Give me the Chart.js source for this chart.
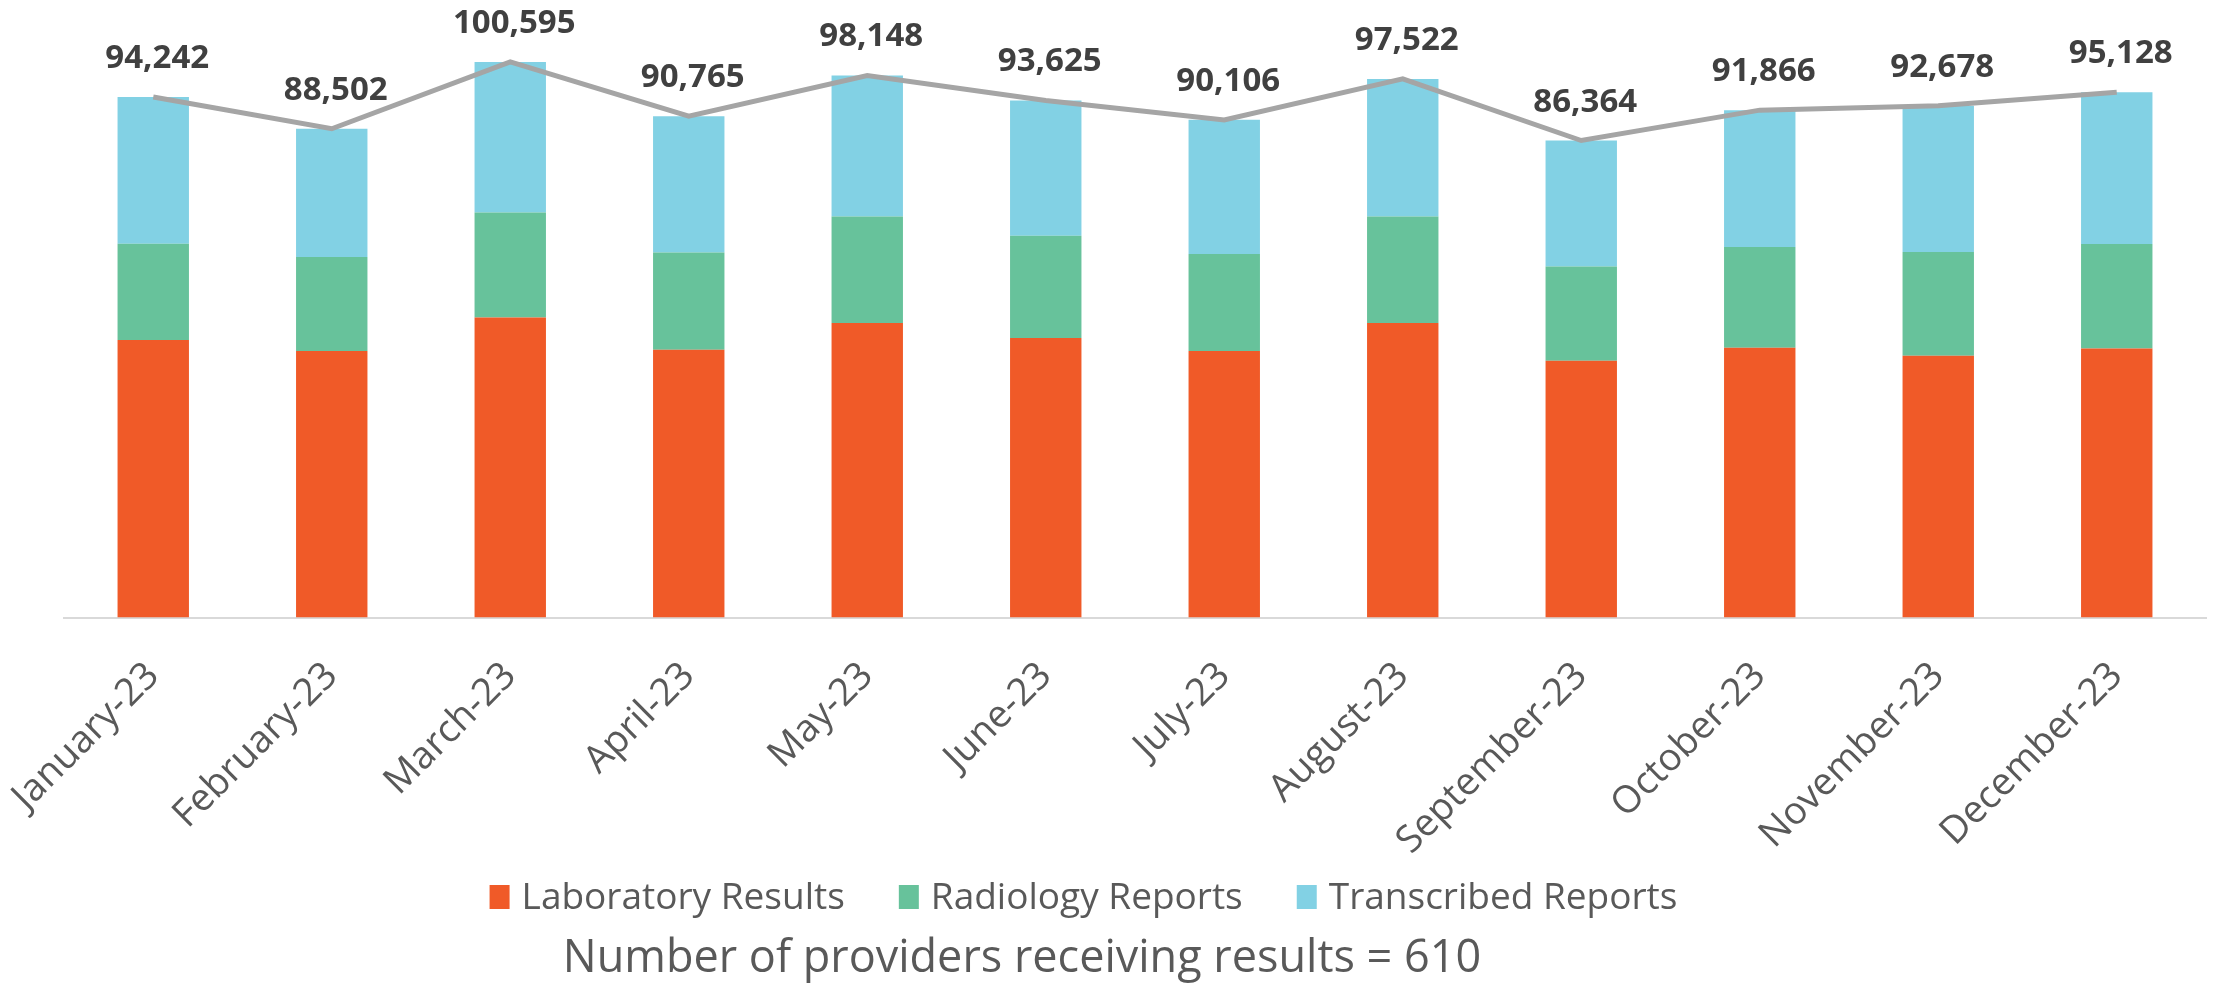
<!DOCTYPE html>
<html>
<head>
<script src="https://cdn.jsdelivr.net/npm/chart.js"></script>
<style>
  body { margin: 0; background: #fff; }
</style>
</head>
<body>
<canvas id="resultsChart" width="2215" height="986"></canvas>

<script>
    const months = ['January-23', 'February-23', 'March-23', 'April-23', 'May-23', 'June-23',
                    'July-23', 'August-23', 'September-23', 'October-23', 'November-23', 'December-23'];
    const labResults = [50229, 48235, 54324, 48471, 53309, 50591, 48235, 53309, 46478, 48833, 47384, 48707];
    const radiologyReports = [17450, 17033, 19026, 17631, 19316, 18537, 17576, 19316, 17087, 18247, 18790, 18917];
    const transcribedReports = [26563, 23234, 27245, 24663, 25523, 24497, 24295, 24897, 22799, 24786, 26504, 27504];
    const totals = [94242, 88502, 100595, 90765, 98148, 93625, 90106, 97522, 86364, 91866, 92678, 95128];
    const footerText = 'Number of providers receiving results = 610';

    const FONT = "'Open Sans', 'Noto Sans', sans-serif";

    // totals written above the grey line
    const totalLabels = {
        id: 'totalLabels',
        afterDatasetsDraw(chart) {
            const ctx = chart.ctx;
            const meta = chart.getDatasetMeta(3);
            ctx.save();
            ctx.font = 'bold 33px ' + FONT;
            ctx.fillStyle = '#404040';
            ctx.textAlign = 'center';
            ctx.textBaseline = 'alphabetic';
            meta.data.forEach((pt, i) => {
                ctx.fillText(totals[i].toLocaleString('en-US'), pt.x + 4, pt.y - 29);
            });
            ctx.restore();
        }
    };

    // legend row + note under the chart (built-in legend can't sit this low without clipping ticks)
    const bottomLegend = {
        id: 'bottomLegend',
        afterDraw(chart) {
            const ctx = chart.ctx;
            const sets = chart.data.datasets.filter(d => d.type !== 'line');
            const boxW = 20, boxH = 24, gap = 12, spacing = 54;
            ctx.save();
            ctx.font = '37px ' + FONT;
            const widths = sets.map(d => ctx.measureText(d.label).width);
            const total = widths.reduce((a, w) => a + boxW + gap + w, 0) + spacing * (sets.length - 1);
            let x = 1083.5 - total / 2;
            const cy = 897;
            ctx.textBaseline = 'middle';
            ctx.textAlign = 'left';
            sets.forEach((d, i) => {
                ctx.fillStyle = d.backgroundColor;
                ctx.fillRect(x, cy - boxH / 2, boxW, boxH);
                x += boxW + gap;
                ctx.fillStyle = '#595959';
                ctx.fillText(d.label, x, cy + 1);
                x += widths[i] + spacing;
            });

            ctx.font = '45px ' + FONT;
            ctx.fillStyle = '#595959';
            ctx.textAlign = 'center';
            ctx.textBaseline = 'alphabetic';
            ctx.fillText(footerText, 1022, 972);
            ctx.restore();
        }
    };

    new Chart(document.getElementById('resultsChart'), {
        type: 'bar',
        data: {
            labels: months,
            datasets: [
                { label: 'Laboratory Results', data: labResults, backgroundColor: '#F05A28', order: 1 },
                { label: 'Radiology Reports', data: radiologyReports, backgroundColor: '#67C29B', order: 1 },
                { label: 'Transcribed Reports', data: transcribedReports, backgroundColor: '#82D1E4', order: 1 },
                {
                    type: 'line',
                    label: 'Total',
                    data: totals,
                    stack: 'total',
                    borderColor: '#A5A5A5',
                    borderWidth: 5,
                    pointRadius: 0,
                    fill: false,
                    tension: 0,
                    order: 0
                }
            ]
        },
        options: {
            responsive: false,
            animation: false,
            layout: { padding: { top: 10, right: 9, bottom: 108.5, left: 0 } },
            datasets: { bar: { categoryPercentage: 1, barPercentage: 0.4 } },
            scales: {
                x: {
                    stacked: true,
                    grid: { display: false, drawTicks: false },
                    border: { display: true, color: '#D9D9D9', width: 2 },
                    ticks: {
                        minRotation: 45,
                        maxRotation: 45,
                        padding: 36,
                        color: '#595959',
                        font: { family: FONT, size: 38 }
                    },
                    afterFit(scale) {
                        scale.height = 260;
                        scale.paddingLeft = 0;
                        scale.paddingRight = 0;
                    }
                },
                y: {
                    stacked: true,
                    min: 0,
                    max: 110000,
                    grid: { display: false, drawTicks: false },
                    border: { display: false },
                    ticks: { display: false },
                    afterFit(scale) {
                        scale.width = 64;
                    }
                }
            },
            plugins: {
                legend: { display: false },
                tooltip: { enabled: false }
            }
        },
        plugins: [totalLabels, bottomLegend]
    });
</script>
</body>
</html>
